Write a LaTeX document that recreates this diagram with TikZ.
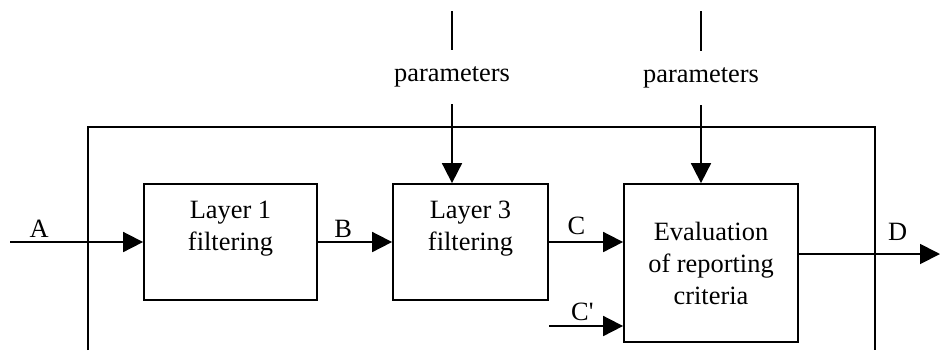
\documentclass[tikz,border=0pt]{standalone}
\usepackage{fontspec}
\setmainfont{Liberation Serif}
\usetikzlibrary{arrows.meta}
\tikzstyle{block} = [draw, fill=white, rectangle, line width=0.9pt, inner sep=0pt, align=center]
\tikzstyle{param} = [inner xsep=2pt, inner ysep=8pt]

\begin{document}
\begin{tikzpicture}[x=0.5pt, y=-0.5pt, line width=0.9pt, >={Triangle[length=10pt, width=10pt]}]
    \tikzset{font={\fontsize{13.2pt}{16pt}\selectfont}}
    \useasboundingbox (0,0) rectangle (940,350);
    \node [block, minimum width=86.5pt, minimum height=58pt] (lay1) at (230.5,242) {Layer 1\\ filtering\\ ~};
    \node [block, right of=lay1, node distance=120pt, minimum width=77.5pt, minimum height=58pt] (lay3) {Layer 3\\ filtering\\ ~};
    \node [block, right of=lay3, node distance=120.25pt, yshift=-10.5pt, minimum width=87pt, minimum height=79pt] (eval) {Evaluation\\ of reporting\\ criteria};

    % parameter inputs
    \node [param] (par1) at (452,77) {parameters};
    \node [param] (par2) at (701,78) {parameters};
    \coordinate (par1top) at (452,11);
    \coordinate (par2top) at (701,11);
    \draw (par1top) -- (par1.north);
    \draw (par2top) -- (par2.north);
    \draw [->] (par1.south) -- (par1.south |- lay3.north);
    \draw [->] (par2.south) -- (par2.south |- eval.north);

    % free ends
    \coordinate (ain) at (10,242);
    \coordinate (cpin) at (549,326);
    \coordinate (dout) at (940,254);

    \draw [->] (ain) -- node[pos=0.22, above, inner sep=2pt] {A} (lay1.west);
    \draw [->] (lay1.east) -- node[pos=0.34, above, inner sep=2pt] {B} (lay3.west);
    \draw [->] (lay3.east) -- node[pos=0.37, above, inner sep=3pt] {C} (lay3.east -| eval.west);
    \draw [->] (cpin) -- node[pos=0.45, above, inner sep=2pt] {C\textquotesingle} (cpin -| eval.west);
    \draw [->] (eval.east |- dout) -- node[pos=0.7, above, inner sep=6.5pt] {D} (dout);

    % outer frame
    \draw (88,350) -- (88,127) -- (875,127) -- (875,350);
\end{tikzpicture}
\end{document}
